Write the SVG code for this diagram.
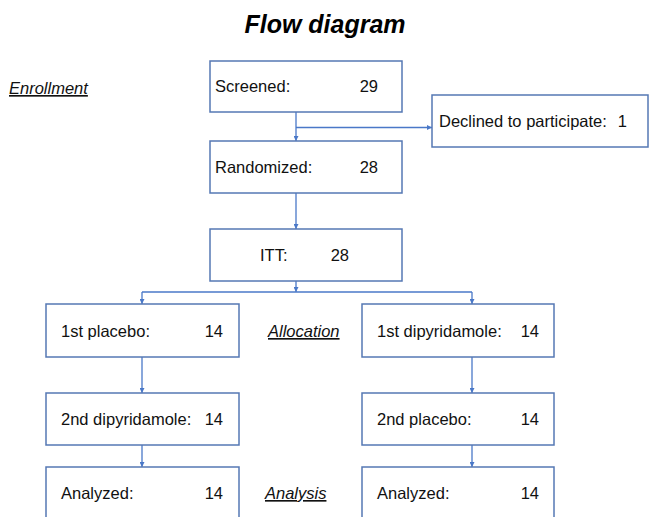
<svg xmlns="http://www.w3.org/2000/svg" width="649" height="517" viewBox="0 0 649 517">
  <style>
    .box { fill: #ffffff; stroke: #5578b4; stroke-width: 1.5; }
    .lbl { font-family: "Liberation Sans", Arial, sans-serif; font-size: 16.5px; fill: #111111; }
    .num { text-anchor: end; }
    .stage { font-family: "Liberation Sans", Arial, sans-serif; font-size: 16.5px; font-style: italic; text-decoration: underline; fill: #111111; }
    .title { font-family: "Liberation Sans", Arial, sans-serif; font-size: 25px; font-weight: bold; font-style: italic; fill: #000000; text-anchor: middle; }
    .conn { fill: none; stroke: #4a78c8; stroke-width: 1.3; }
  </style>
  <defs>
    <marker id="arrow" viewBox="0 0 10 10" refX="10" refY="5" markerWidth="5" markerHeight="5" orient="auto" markerUnits="userSpaceOnUse">
      <path d="M0,0 L10,5 L0,10 z" fill="#4a78c8"/>
    </marker>
  </defs>

  <rect width="649" height="517" fill="#ffffff"/>

  <text class="title" x="325" y="33">Flow diagram</text>

  <!-- stage labels -->
  <text class="stage" x="9" y="94">Enrollment</text>
  <text class="stage" x="268" y="337">Allocation</text>
  <text class="stage" x="265" y="499">Analysis</text>

  <!-- connectors -->
  <g id="connectors">
    <path class="conn" d="M296,112 V141" marker-end="url(#arrow)"/>
    <path class="conn" d="M296,127.5 H432" marker-end="url(#arrow)"/>
    <path class="conn" d="M296,193 V229" marker-end="url(#arrow)"/>
    <path class="conn" d="M296,281 V292" marker-end="url(#arrow)"/>
    <path class="conn" d="M142,292 H472"/>
    <path class="conn" d="M142,292 V304" marker-end="url(#arrow)"/>
    <path class="conn" d="M472,292 V304" marker-end="url(#arrow)"/>
    <path class="conn" d="M142,357 V393" marker-end="url(#arrow)"/>
    <path class="conn" d="M472,357 V393" marker-end="url(#arrow)"/>
    <path class="conn" d="M142,445 V467" marker-end="url(#arrow)"/>
    <path class="conn" d="M472,445 V467" marker-end="url(#arrow)"/>
  </g>

  <!-- nodes -->
  <g id="screened">
    <rect class="box" x="210" y="61" width="192" height="51"/>
    <text class="lbl" x="215" y="92">Screened:</text>
    <text class="lbl num" x="378" y="92">29</text>
  </g>
  <g id="declined">
    <rect class="box" x="432" y="95" width="216" height="52"/>
    <text class="lbl" x="439" y="127">Declined to participate:</text>
    <text class="lbl num" x="627" y="127">1</text>
  </g>
  <g id="randomized">
    <rect class="box" x="210" y="141" width="192" height="52"/>
    <text class="lbl" x="215" y="173">Randomized:</text>
    <text class="lbl num" x="378" y="173">28</text>
  </g>
  <g id="itt">
    <rect class="box" x="210" y="229" width="192" height="52"/>
    <text class="lbl" x="260" y="261">ITT:</text>
    <text class="lbl num" x="349" y="261">28</text>
  </g>
  <g id="first-placebo">
    <rect class="box" x="46" y="304" width="193" height="53"/>
    <text class="lbl" x="61" y="337">1st placebo:</text>
    <text class="lbl num" x="223" y="337">14</text>
  </g>
  <g id="first-dipyridamole">
    <rect class="box" x="362" y="304" width="192" height="53"/>
    <text class="lbl" x="377" y="337">1st dipyridamole:</text>
    <text class="lbl num" x="539" y="337">14</text>
  </g>
  <g id="second-dipyridamole">
    <rect class="box" x="46" y="393" width="193" height="52"/>
    <text class="lbl" x="61" y="425">2nd dipyridamole:</text>
    <text class="lbl num" x="223" y="425">14</text>
  </g>
  <g id="second-placebo">
    <rect class="box" x="362" y="393" width="192" height="52"/>
    <text class="lbl" x="377" y="425">2nd placebo:</text>
    <text class="lbl num" x="539" y="425">14</text>
  </g>
  <g id="analyzed-left">
    <rect class="box" x="46" y="467" width="193" height="60"/>
    <text class="lbl" x="61" y="499">Analyzed:</text>
    <text class="lbl num" x="223" y="499">14</text>
  </g>
  <g id="analyzed-right">
    <rect class="box" x="362" y="467" width="192" height="60"/>
    <text class="lbl" x="377" y="499">Analyzed:</text>
    <text class="lbl num" x="539" y="499">14</text>
  </g>
</svg>
